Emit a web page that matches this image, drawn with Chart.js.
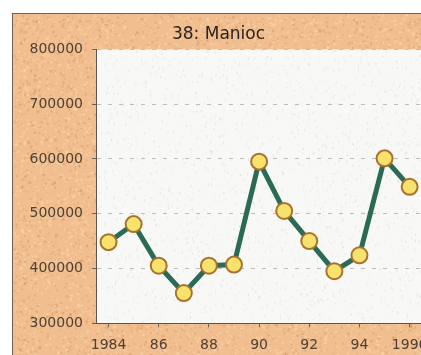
<!DOCTYPE html>
<html>
<head>
<meta charset="utf-8">
<script src="https://cdn.jsdelivr.net/npm/chart.js@4/dist/chart.umd.min.js"></script>
<style>
  html, body { margin: 0; padding: 0; background: #ffffff; overflow: hidden; width: 421px; height: 355px; }
  #frame {
    position: absolute; left: 12px; top: 13px; width: 440px; height: 360px;
    border-top: 1px solid #6b625a; border-left: 1px solid #6b625a;
    background: #f1bf8f;
  }
  #tex { position: absolute; left: 0; top: 0; }
  #wrap { position: absolute; left: 0; top: 0; width: 425px; height: 350px; }
</style>
</head>
<body>
<div id="frame">
  <canvas id="tex" width="440" height="360"></canvas>
  <div id="wrap"><canvas id="chart"></canvas></div>
</div>
<script>
// Production series, 1984-1996
const years = [1984, 1985, 1986, 1987, 1988, 1989, 1990, 1991, 1992, 1993, 1994, 1995, 1996];
const production = [448000, 481000, 405000, 355000, 405000, 407000, 595000, 505000, 450000, 395000, 424000, 601000, 549000];
const yTicks = [300000, 400000, 500000, 600000, 700000, 800000];
const titleText = '38: Manioc';

// Speckled paper texture behind the chart (deterministic hash noise)
(function paintTexture() {
  const c = document.getElementById('tex');
  const ctx = c.getContext('2d');
  let s = 1234567;
  const next = () => { s = (s * 1103515245 + 12345) & 0x7fffffff; return s / 0x7fffffff; };
  for (let i = 0; i < 9000; i++) {
    const x = next() * c.width, y = next() * c.height;
    const r = next();
    ctx.fillStyle = r < 0.5 ? 'rgba(250,215,170,0.55)' : (r < 0.85 ? 'rgba(225,160,110,0.45)' : 'rgba(200,130,90,0.35)');
    ctx.fillRect(x, y, 1 + next() * 2, 1 + next() * 2);
  }
})();

// Light speckled plot background
const plotBg = {
  id: 'plotBg',
  beforeDraw(chart) {
    const { ctx, chartArea: a } = chart;
    ctx.save();
    ctx.fillStyle = '#f8f8f7';
    ctx.fillRect(a.left, a.top, a.right - a.left, a.bottom - a.top);
    let s = 98765;
    const next = () => { s = (s * 1103515245 + 12345) & 0x7fffffff; return s / 0x7fffffff; };
    for (let i = 0; i < 2000; i++) {
      const x = a.left + next() * (a.right - a.left), y = a.top + next() * (a.bottom - a.top);
      ctx.fillStyle = 'rgba(150,150,150,' + (0.06 + next() * 0.14).toFixed(2) + ')';
      ctx.fillRect(x, y, 1, 1 + next() * 2);
    }
    ctx.restore();
  }
};

const labelColor = '#4e4034';
const labelFont = { family: 'DejaVu Sans, sans-serif', size: 14 };

new Chart(document.getElementById('chart'), {
  type: 'line',
  data: {
    labels: years,
    datasets: [{
      data: production,
      borderColor: '#2b6a55',
      borderWidth: 5,
      tension: 0,
      pointRadius: 8,
      pointBorderWidth: 2,
      pointBackgroundColor: '#f6e26c',
      pointBorderColor: '#a9722c',
      clip: false
    }]
  },
  options: {
    responsive: true,
    maintainAspectRatio: false,
    animation: false,
    events: [],
    layout: { padding: { left: 0, right: 14, top: 0, bottom: 0 } },
    plugins: {
      legend: { display: false },
      tooltip: { enabled: false },
      title: {
        display: true,
        text: titleText,
        color: '#2a2420',
        font: { family: 'DejaVu Sans, sans-serif', size: 17, weight: 'normal' },
        padding: { top: 10, bottom: 5 }
      }
    },
    scales: {
      x: {
        type: 'category',
        offset: true,
        border: { display: true, color: '#5c554e', width: 1 },
        grid: { display: true, drawOnChartArea: false, drawTicks: true, tickLength: 4, offset: false, color: '#6b625a' },
        ticks: {
          color: labelColor,
          font: labelFont,
          padding: 10,
          maxRotation: 0,
          autoSkip: false,
          callback: function (val, i) {
            const y = years[i];
            if (y % 2 !== 0) return null;
            if (y === 1984 || y === 1996) return String(y);
            return String(y).slice(2);
          }
        }
      },
      y: {
        min: 300000,
        max: 800000,
        afterFit(scale) { scale.width = 83; },
        afterBuildTicks(scale) { scale.ticks = yTicks.map(v => ({ value: v })); },
        border: { display: true, color: '#5c554e', width: 1, dash: [4, 7] },
        grid: {
          color: '#bdbdbd',
          drawTicks: true,
          tickLength: 4,
          tickColor: '#6b625a',
          tickBorderDash: [1, 0]
        },
        ticks: {
          color: labelColor,
          font: labelFont,
          padding: 9,
          callback: v => String(v)
        }
      }
    }
  },
  plugins: [plotBg]
});
</script>
</body>
</html>
